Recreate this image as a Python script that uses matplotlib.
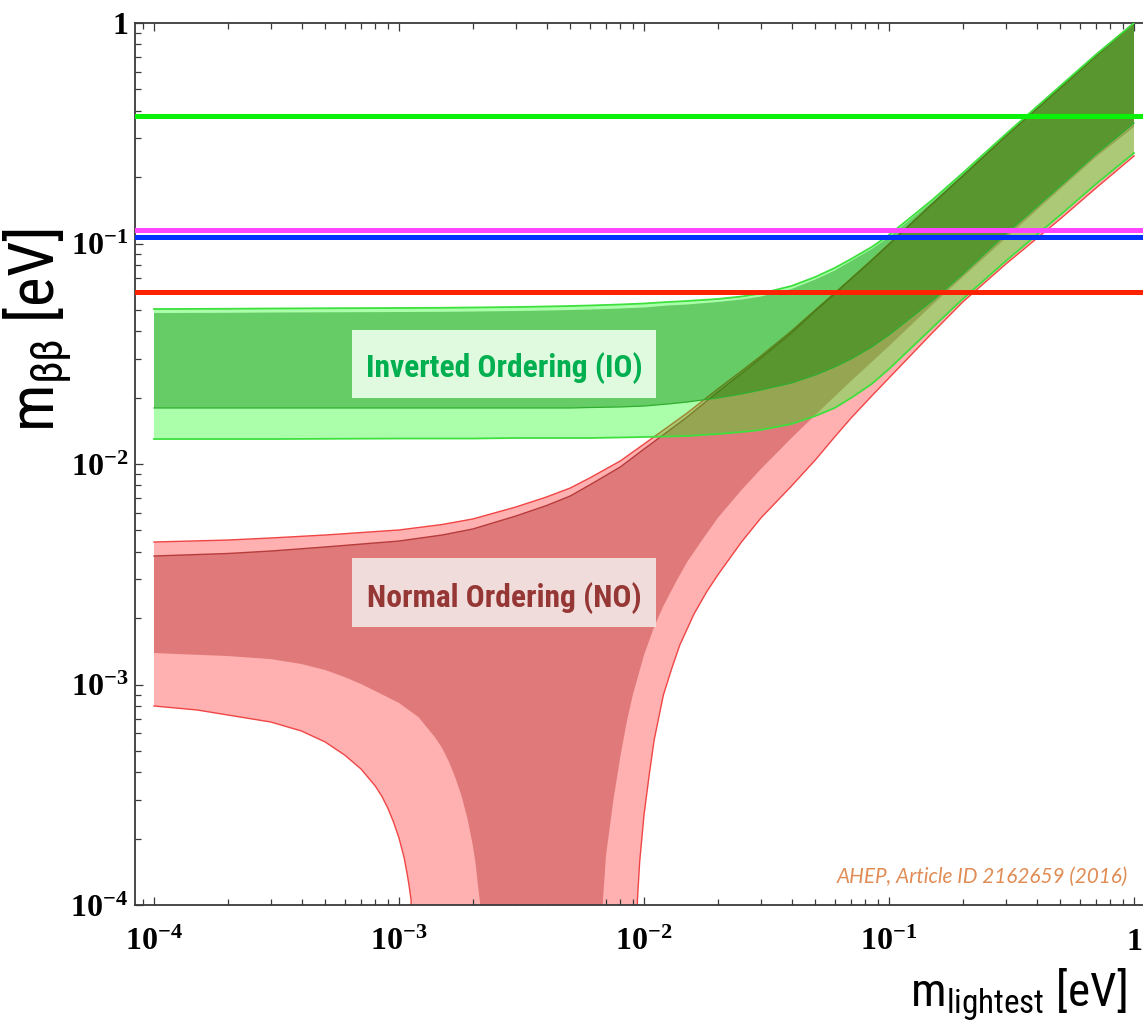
import numpy as np
import matplotlib
matplotlib.use("Agg")
import matplotlib.pyplot as plt
from matplotlib import font_manager as fm
from matplotlib.patches import Rectangle
from matplotlib.ticker import FuncFormatter, LogLocator, NullFormatter

# ---------------- data (eV) ----------------
# lightest neutrino mass grid used for the upper edges and the IO band
m_grid = [1e-4, 2e-4, 3e-4, 5e-4, 1e-3, 1.5e-3, 2e-3, 3e-3, 4e-3, 5e-3, 6e-3, 8e-3, 1e-2,
          1.25e-2, 1.5e-2, 2e-2, 2.5e-2, 3e-2, 4e-2, 5e-2, 6e-2, 7e-2, 8.5e-2, 0.1, 0.15, 0.2,
          0.3, 0.5, 0.7, 1.0]

# inverted ordering: outer (3 sigma) and inner (1 sigma) band edges
io_upper_3s = [0.05045, 0.05058, 0.05072, 0.05085, 0.05099, 0.05110, 0.05126, 0.05152, 0.05180,
               0.05207, 0.05234, 0.05290, 0.05345, 0.05429, 0.05486, 0.05602, 0.05749, 0.05932,
               0.06416, 0.07048, 0.07743, 0.08507, 0.09641, 0.1093, 0.1575, 0.2088, 0.3137,
               0.5179, 0.7200, 1.0]
io_upper_1s = [0.04838, 0.04850, 0.04864, 0.04875, 0.04889, 0.04900, 0.04915, 0.04941, 0.04966,
               0.04993, 0.05019, 0.05072, 0.05126, 0.05234, 0.05290, 0.05429, 0.05572, 0.05749,
               0.06218, 0.06866, 0.07541, 0.08332, 0.09443, 0.1070, 0.1550, 0.2066, 0.3105,
               0.5152, 0.7159, 1.0]
io_lower_1s = [0.01795, 0.01795, 0.01795, 0.01795, 0.01795, 0.01795, 0.01795, 0.01795, 0.01795,
               0.01795, 0.01804, 0.01814, 0.01832, 0.01871, 0.01910, 0.01993, 0.02078, 0.02166,
               0.02330, 0.02533, 0.02754, 0.02994, 0.03393, 0.03846, 0.05486, 0.07270, 0.1104,
               0.1823, 0.2545, 0.3519]
io_lower_3s = [0.01298, 0.01298, 0.01298, 0.01301, 0.01305, 0.01305, 0.01305, 0.01312, 0.01312,
               0.01312, 0.01312, 0.01319, 0.01326, 0.01333, 0.01340, 0.01368, 0.01397, 0.01427,
               0.01518, 0.01651, 0.01795, 0.01993, 0.02306, 0.02696, 0.04138, 0.05602, 0.08332,
               0.1346, 0.1862, 0.2572]

# normal ordering: upper edges on the common grid
no_upper_3s = [4.428e-3, 4.520e-3, 4.618e-3, 4.764e-3, 5.021e-3, 5.316e-3, 5.632e-3, 6.383e-3,
               7.085e-3, 7.783e-3, 8.640e-3, 1.032e-2, 1.232e-2, 1.472e-2, 1.703e-2, 2.188e-2,
               2.641e-2, 3.089e-2, 4.010e-2, 4.994e-2, 5.963e-2, 6.940e-2, 8.418e-2, 9.948e-2,
               0.1510, 0.2023, 0.3073, 0.5072, 0.7083, 1.0]
no_upper_1s = [3.826e-3, 3.927e-3, 4.030e-3, 4.204e-3, 4.474e-3, 4.764e-3, 5.072e-3, 5.810e-3,
               6.482e-3, 7.160e-3, 8.033e-3, 9.692e-3, 1.169e-2, 1.404e-2, 1.633e-2, 2.121e-2,
               2.573e-2, 3.025e-2, 3.927e-2, 4.942e-2, 5.902e-2, 6.903e-2, 8.374e-2, 9.897e-2,
               0.1510, 0.2023, 0.3073, 0.5072, 0.7083, 1.0]

# normal ordering: lower edges, left branch (falls into the cancellation region)
no_low3_left_m = [1e-4, 1.5e-4, 2e-4, 3e-4, 4e-4, 5e-4, 6e-4, 7e-4, 8e-4, 8.5e-4, 9e-4, 9.5e-4,
                  1e-3, 1.05e-3, 1.08e-3, 1.1e-3, 1.12e-3, 1.14e-3]
no_low3_left = [7.989e-4, 7.663e-4, 7.273e-4, 6.758e-4, 6.152e-4, 5.484e-4, 4.788e-4, 4.137e-4,
                3.464e-4, 3.121e-4, 2.754e-4, 2.379e-4, 2.013e-4, 1.634e-4, 1.382e-4, 1.220e-4,
                1.054e-4, 0.0]
no_low1_left_m = [1e-4, 2e-4, 3e-4, 4e-4, 5e-4, 6e-4, 7e-4, 8e-4, 1e-3, 1.2e-3, 1.4e-3, 1.5e-3,
                  1.6e-3, 1.7e-3, 1.8e-3, 1.9e-3, 2e-3, 2.05e-3, 2.1e-3, 2.14e-3, 2.17e-3]
no_low1_left = [1.389e-3, 1.346e-3, 1.304e-3, 1.238e-3, 1.163e-3, 1.081e-3, 1.005e-3, 9.343e-4,
                8.244e-4, 7.122e-4, 5.778e-4, 5.152e-4, 4.453e-4, 3.767e-4, 3.121e-4, 2.481e-4,
                1.871e-4, 1.567e-4, 1.232e-4, 1.032e-4, 0.0]

# normal ordering: lower edges, right branch (rises out of the cancellation region)
no_low1_right_m = [6.6e-3, 6.8e-3, 7e-3, 7.5e-3, 8e-3, 8.5e-3, 9e-3, 1e-2, 1.1e-2, 1.2e-2, 1.35e-2,
                   1.5e-2, 1.75e-2, 2e-2, 2.5e-2, 3e-2, 4e-2, 5e-2, 7e-2, 0.1, 0.15, 0.2, 0.3,
                   0.5, 0.7, 1.0]
no_low1_right = [0.0, 1.054e-4, 1.686e-4, 2.994e-4, 4.690e-4, 6.758e-4, 8.964e-4, 1.360e-3,
                 1.823e-3, 2.270e-3, 2.917e-3, 3.593e-3, 4.618e-3, 5.690e-3, 7.623e-3, 9.491e-3,
                 1.312e-2, 1.668e-2, 2.379e-2, 3.428e-2, 5.262e-2, 7.048e-2, 0.1059, 0.1767,
                 0.2467, 0.3375]
no_low3_right_m = [9.3e-3, 9.4e-3, 9.6e-3, 1e-2, 1.05e-2, 1.1e-2, 1.2e-2, 1.3e-2, 1.4e-2, 1.6e-2,
                   1.8e-2, 2e-2, 2.5e-2, 3e-2, 4e-2, 5e-2, 6e-2, 7e-2, 8.5e-2, 0.1, 0.15, 0.2,
                   0.3, 0.5, 0.7, 1.0]
no_low3_right = [0.0, 1.054e-4, 1.567e-4, 2.559e-4, 3.886e-4, 5.602e-4, 8.964e-4, 1.188e-3,
                 1.510e-3, 2.088e-3, 2.627e-3, 3.137e-3, 4.428e-3, 5.690e-3, 7.948e-3, 1.042e-2,
                 1.326e-2, 1.616e-2, 2.034e-2, 2.455e-2, 3.927e-2, 5.429e-2, 8.072e-2, 0.1292,
                 0.1785, 0.2493]

# experimental upper limits on m_bb (horizontal lines)
limit_values = [0.377, 0.115, 0.107, 0.0605]
limit_colors = ["#0af20a", "#ff45ff", "#0033ff", "#ff2200"]

band_labels = ["Inverted Ordering (IO)", "Normal Ordering (NO)"]
x_label = r"m$_{\mathrm{lightest}}$ [eV]"
y_label = r"m$_{\mathrm{\beta\beta}}$ [eV]"
citation = "AHEP, Article ID 2162659 (2016)"

# ---------------- fonts ----------------
avail = {f.name for f in fm.fontManager.ttflist}


def pick(*names):
    for n in names:
        if n in avail:
            return n
    return "DejaVu Sans"


narrow = pick("Liberation Sans Narrow", "Roboto Condensed", "Open Sans Condensed", "Lato", "Open Sans")
serif = pick("Liberation Serif", "DejaVu Serif")
ital = pick("Lato", "Open Sans", "Noto Sans")

plt.rcParams["font.family"] = [narrow, "DejaVu Sans"]
plt.rcParams["mathtext.fontset"] = "custom"
plt.rcParams["mathtext.rm"] = narrow
plt.rcParams["mathtext.it"] = narrow + ":italic"
plt.rcParams["mathtext.sf"] = narrow
plt.rcParams["mathtext.bf"] = serif + ":bold"

# ---------------- figure ----------------
W, H = 1143, 1034
fig = plt.figure(figsize=(W / 100, H / 100), dpi=100)
ax_left, ax_right, ax_top, ax_bottom = 135, 1143, 23, 905
ax = fig.add_axes([ax_left / W, 1 - ax_bottom / H, (ax_right - ax_left) / W, (ax_bottom - ax_top) / H])
ax.set_xscale("log")
ax.set_yscale("log")
ax.set_xlim(10 ** ((ax_left - 154) / 245 - 4), 10 ** ((ax_right - 154) / 245 - 4))
ax.set_ylim(1e-4, 1)

FLOOR = 1e-7


def polygon(upper_m, upper, lower_parts):
    xs = list(upper_m)
    ys = list(upper)
    for pm, pv in lower_parts:
        xs += list(pm)[::-1]
        ys += list(pv)[::-1]
    return np.array(xs), np.clip(np.array(ys), FLOOR, None)


# normal ordering (opaque reds)
x, y = polygon(m_grid, no_upper_3s, [(no_low3_right_m, no_low3_right), (no_low3_left_m, no_low3_left)])
ax.fill(x, y, color="#ffb0b0", lw=0, zorder=1)
x, y = polygon(m_grid, no_upper_1s, [(no_low1_right_m, no_low1_right), (no_low1_left_m, no_low1_left)])
ax.fill(x, y, color="#e07a7a", lw=0, zorder=2)
ax.plot(m_grid, no_upper_3s, color="#f04545", lw=1.0, zorder=2.5)
ax.plot(m_grid, no_upper_1s, color="#b83c3c", lw=1.0, zorder=2.5)
ax.plot(no_low3_left_m, np.clip(no_low3_left, FLOOR, None), color="#f04545", lw=1.0, zorder=2.5)
ax.plot(no_low3_right_m, np.clip(no_low3_right, FLOOR, None), color="#f04545", lw=1.0, zorder=2.5)

# inverted ordering (translucent greens over the reds)
x, y = polygon(m_grid, io_upper_3s, [(m_grid, io_lower_3s)])
ax.fill(x, y, color=(0.0, 1.0, 0.0), alpha=0.33, lw=0, zorder=3)
x, y = polygon(m_grid, io_upper_1s, [(m_grid, io_lower_1s)])
ax.fill(x, y, color=(0.0, 0.5, 0.0), alpha=0.40, lw=0, zorder=4)
ax.plot(m_grid, io_upper_3s, color="#3ee03e", lw=1.3, zorder=5)
ax.plot(m_grid, io_lower_3s, color="#3ee03e", lw=1.3, zorder=5)
ax.plot(m_grid, io_lower_1s, color="#2fae2f", lw=0.9, zorder=5)

# experimental limits
for v, c in zip(limit_values, limit_colors):
    ax.axhline(v, color=c, lw=3.6, zorder=6)

# band labels
for (y0, y1), txt, fc, tc, base in [((330, 398), band_labels[0], "#dffadf", "#00b050", 377),
                                    ((558, 627), band_labels[1], "#f1dcdc", "#953735", 607)]:
    bx0 = (352 - ax_left) / (ax_right - ax_left)
    bx1 = (656 - ax_left) / (ax_right - ax_left)
    by0 = (ax_bottom - y1) / (ax_bottom - ax_top)
    by1 = (ax_bottom - y0) / (ax_bottom - ax_top)
    ax.add_patch(Rectangle((bx0, by0), bx1 - bx0, by1 - by0, transform=ax.transAxes,
                           facecolor=fc, edgecolor="none", zorder=7))
    t = ax.text((bx0 + bx1) / 2, (ax_bottom - base) / (ax_bottom - ax_top), txt,
                transform=ax.transAxes, ha="center", va="baseline", color=tc,
                fontsize=20, fontweight="bold", zorder=8)
    t._fit_px = 275

# citation
cit = ax.text((1128 - ax_left) / (ax_right - ax_left), (ax_bottom - 883) / (ax_bottom - ax_top),
              citation, transform=ax.transAxes, ha="right", va="baseline",
              color="#e08c55", fontsize=14, fontstyle="italic", family=[ital, "DejaVu Sans"], zorder=8)
cit._fit_px = 292

# axes styling
for s in ["top", "bottom", "left"]:
    ax.spines[s].set_color("#3a3a3a")
    ax.spines[s].set_linewidth(1.3)
ax.spines["right"].set_visible(False)
ax.xaxis.set_major_locator(LogLocator(base=10, numticks=10))
ax.yaxis.set_major_locator(LogLocator(base=10, numticks=10))
ax.xaxis.set_minor_locator(LogLocator(base=10, subs=np.arange(2, 10), numticks=20))
ax.yaxis.set_minor_locator(LogLocator(base=10, subs=np.arange(2, 10), numticks=20))


def dec_fmt(v, pos):
    e = int(round(np.log10(v)))
    return r"$\mathbf{1}$" if e == 0 else r"$\mathbf{10^{%d}}$" % e


ax.xaxis.set_major_formatter(FuncFormatter(dec_fmt))
ax.yaxis.set_major_formatter(FuncFormatter(dec_fmt))
ax.xaxis.set_minor_formatter(NullFormatter())
ax.yaxis.set_minor_formatter(NullFormatter())
ax.tick_params(which="both", direction="in", top=True, right=False, colors="#3a3a3a",
               width=0.9, labelcolor="black")
ax.tick_params(which="major", length=5.5, labelsize=23)
ax.tick_params(which="minor", length=4)
ax.tick_params(axis="x", which="major", pad=16)
ax.tick_params(axis="y", which="major", pad=5)

# axis titles placed in figure coordinates
xl = fig.text(1127 / W, 1 - 1008 / H, x_label, ha="right", va="baseline", fontsize=30)
xl._fit_px = 217
yl = fig.text(38 / W, 1 - 330 / H, y_label, ha="center", va="center", rotation=90, fontsize=30)
yl._fit_px = 205

# scale titles/labels to their measured widths
fig.canvas.draw()
r = fig.canvas.get_renderer()
for t in [*ax.texts, xl, yl]:
    if hasattr(t, "_fit_px"):
        bb = t.get_window_extent(r)
        w = bb.height if t.get_rotation() == 90 else bb.width
        t.set_fontsize(t.get_fontsize() * t._fit_px / w)

fig.savefig("out.png", dpi=100)
